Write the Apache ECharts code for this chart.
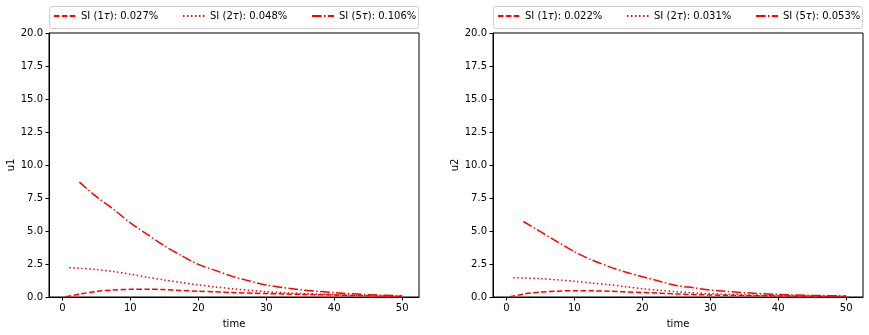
<!DOCTYPE html>
<html>
<head>
<meta charset="utf-8">
<script src="https://cdn.jsdelivr.net/npm/echarts@6/dist/echarts.min.js"></script>
<style>
  html, body { margin: 0; padding: 0; background: #fff; }
  #main { width: 869px; height: 335px; }
</style>
</head>
<body>
<div id="main"></div>
<script>
// 数据：时间和各曲线数值
const dashT = [0.5, 2.5, 5, 7.5, 10, 12.5, 15, 17.5, 20, 22.5, 25, 30, 35, 40, 45, 50];
const dotT = [1, 2.5, 5, 7.5, 10, 12.5, 15, 17.5, 20, 22.5, 25, 30, 35, 40, 45, 50];
const dashDotT = [2.5, 5, 7.5, 10, 12.5, 15, 17.5, 20, 22.5, 25, 27.5, 30, 35, 40, 45, 50];

const u1Dash = [0.02, 0.22, 0.42, 0.53, 0.58, 0.59, 0.56, 0.50, 0.44, 0.39, 0.34, 0.26, 0.20, 0.15, 0.09, 0.05];
const u1Dot = [2.22, 2.18, 2.08, 1.93, 1.73, 1.50, 1.29, 1.10, 0.92, 0.76, 0.63, 0.40, 0.27, 0.18, 0.10, 0.05];
const u1DashDot = [8.7, 7.6, 6.65, 5.62, 4.74, 3.88, 3.14, 2.47, 2.02, 1.56, 1.22, 0.91, 0.55, 0.33, 0.18, 0.08];

const u2Dash = [0.02, 0.22, 0.37, 0.44, 0.48, 0.47, 0.44, 0.39, 0.34, 0.29, 0.23, 0.15, 0.11, 0.08, 0.05, 0.03];
const u2Dot = [1.46, 1.44, 1.39, 1.30, 1.19, 1.06, 0.94, 0.78, 0.63, 0.51, 0.40, 0.25, 0.17, 0.12, 0.07, 0.04];
const u2DashDot = [5.72, 4.95, 4.18, 3.43, 2.82, 2.32, 1.89, 1.54, 1.20, 0.87, 0.70, 0.53, 0.33, 0.20, 0.12, 0.08];

const xTicks = [0, 10, 20, 30, 40, 50];
const names1 = ['SI (1τ): 0.027%', 'SI (2τ): 0.048%', 'SI (5τ): 0.106%'];
const names2 = ['SI (1τ): 0.022%', 'SI (2τ): 0.031%', 'SI (5τ): 0.053%'];
const yNames = ['u1', 'u2'];

const FONT = 'DejaVu Sans';
const dashStyles = [[5.5, 2.4], [1.5, 2.5], [9.6, 2.4, 1.5, 2.4]];
const gridLefts = [49, 493];

function pairs(t, v) {
  return t.map((x, i) => [x, v[i]]);
}

const myChart = echarts.init(document.getElementById('main'));

const grids = gridLefts.map(l => ({
  left: l, top: 33, width: 370, height: 264,
  show: true, borderColor: '#000', borderWidth: 1
}));

const xAxes = [0, 1].map(i => ({
  type: 'value', gridIndex: i,
  min: -1.975, max: 52.475,
  name: 'time', nameLocation: 'middle', nameGap: 22,
  nameTextStyle: { fontFamily: FONT, fontSize: 10, color: '#000' },
  axisLine: { show: true, onZero: false, lineStyle: { color: '#000', width: 1 } },
  axisTick: { show: true, length: 3.5, customValues: xTicks, lineStyle: { color: '#000' } },
  axisLabel: { customValues: xTicks, margin: 6, fontFamily: FONT, fontSize: 10, color: '#000' },
  splitLine: { show: false }
}));

const yAxes = [0, 1].map(i => ({
  type: 'value', gridIndex: i,
  min: 0, max: 20, interval: 2.5,
  name: yNames[i], nameLocation: 'middle', nameGap: 33,
  nameTextStyle: { fontFamily: FONT, fontSize: 10, color: '#000' },
  axisLine: { show: true, onZero: false, lineStyle: { color: '#000', width: 1 } },
  axisTick: { show: true, length: 3.5, lineStyle: { color: '#000' } },
  axisLabel: { margin: 6, fontFamily: FONT, fontSize: 10, color: '#000',
    formatter: v => v.toFixed(1) },
  splitLine: { show: false }
}));

const allData = [
  [pairs(dashT, u1Dash), pairs(dotT, u1Dot), pairs(dashDotT, u1DashDot)],
  [pairs(dashT, u2Dash), pairs(dotT, u2Dot), pairs(dashDotT, u2DashDot)]
];
const allNames = [names1, names2];

const series = [];
const legends = [];
const itemOffsets = [4, 133, 262];
[0, 1].forEach(g => {
  [0, 1, 2].forEach(k => {
    series.push({
      name: allNames[g][k],
      type: 'line',
      xAxisIndex: g, yAxisIndex: g,
      data: allData[g][k],
      smooth: 0.3,
      symbol: 'none',
      lineStyle: { color: '#ff0000', width: 1.5, type: dashStyles[k] },
      itemStyle: { color: '#ff0000' }
    });
    legends.push({
      data: [allNames[g][k]],
      left: gridLefts[g] + itemOffsets[k], top: 11,
      padding: 0,
      itemWidth: 22, itemHeight: 12,
      selectedMode: false,
      itemStyle: { opacity: 0 },
      formatter: n => n.replace('τ', '{t|τ}'),
      textStyle: { fontFamily: FONT, fontSize: 10, color: '#000',
        rich: { t: { fontFamily: FONT, fontSize: 10, fontStyle: 'italic', color: '#000' } } }
    });
  });
});

myChart.setOption({
  animation: false,
  grid: grids,
  xAxis: xAxes,
  yAxis: yAxes,
  legend: legends,
  graphic: gridLefts.map(l => ({
    type: 'rect', left: l, top: 6, z: -1,
    shape: { width: 369, height: 22, r: 2 },
    style: { fill: '#fff', stroke: '#d0d0d0', lineWidth: 1 }
  })),
  series: series
});
</script>
</body>
</html>
